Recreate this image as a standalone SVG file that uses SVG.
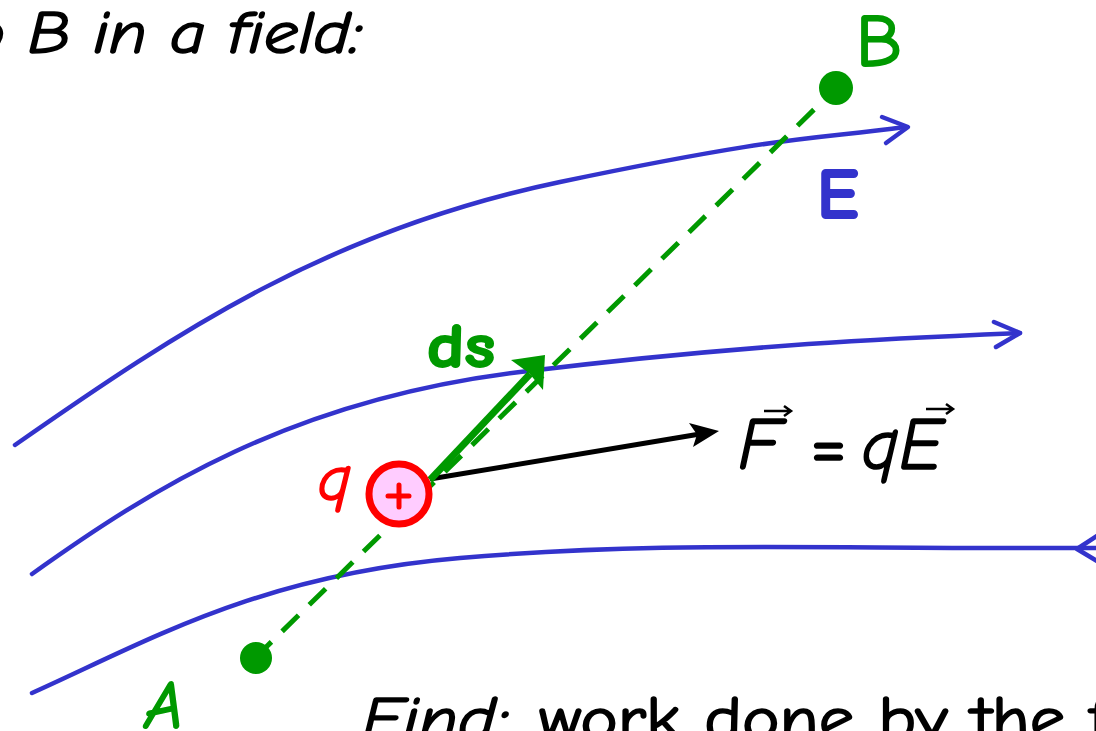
<svg xmlns="http://www.w3.org/2000/svg" width="1096" height="731" viewBox="0 0 1096 731">
<style>
.fl{fill:none;stroke:#3333cc;stroke-width:4.5;stroke-linecap:round;stroke-linejoin:round}
.t{font-family:"Comic Sans MS","Comic Neue","DejaVu Sans",sans-serif;stroke-linejoin:round}
.k{fill:#000;stroke:#000;stroke-width:1.6}
.g{fill:#009900}
.gs{stroke:#009900;stroke-width:2}
</style>
<rect width="1096" height="731" fill="#fff"/>
<text class="t k" x="-52" y="53" font-size="60" font-style="italic" textLength="414" lengthAdjust="spacingAndGlyphs">to B in a field:</text>
<g id="connectors">
<path class="fl" d="M15,445 C180,330 330,230 560,182 S810,140 905,127"/>
<path class="fl" d="M882,117 L908,127 L886,143"/>
<path class="fl" d="M32,574 C150,490 290,400 520,372 S900,338 1020,333"/>
<path class="fl" d="M994,322 L1020,333 L996,347"/>
<path class="fl" d="M32,693 C150,640 260,575 460,558 S800,549 1096,548"/>
<path class="fl" d="M1097,536 L1077,549 L1097,561"/>
<line x1="255" y1="658" x2="836" y2="88" stroke="#009900" stroke-width="5" stroke-dasharray="23,15"/>
<line x1="430" y1="479" x2="700" y2="434" stroke="#000" stroke-width="5"/>
<path d="M719,431 L689,423 L697,434.5 L693,447 Z" fill="#000"/>
<line x1="430" y1="480" x2="530" y2="374" stroke="#009900" stroke-width="7"/>
<path d="M545,355 L511,360 L529,373 L543,390 Z" fill="#009900"/>
</g>
<g id="A">
<circle cx="256" cy="658" r="16" class="g"/>
<text class="t g gs" x="145" y="728" font-size="66" font-style="italic">A</text>
</g>
<g id="B">
<circle cx="836" cy="88" r="17" class="g"/>
<text class="t g gs" x="856" y="66" font-size="74">B</text>
</g>
<g id="E">
<text class="t" x="817" y="218" font-size="70" font-weight="bold" fill="#3333cc" stroke="#3333cc" stroke-width="2">E</text>
</g>
<g id="ds">
<text class="t g gs" x="427" y="367" font-size="62" font-weight="bold" textLength="68" lengthAdjust="spacingAndGlyphs">ds</text>
</g>
<g id="q">
<circle cx="399" cy="494" r="30" fill="#ffccff" stroke="#ff0000" stroke-width="7"/>
<path d="M388,496 H409 M399,485 V507" stroke="#ff0000" stroke-width="5" stroke-linecap="round"/>
<text class="t" x="318" y="500" font-size="64" font-style="italic" fill="#ff0000" stroke="#ff0000" stroke-width="1.6">q</text>
</g>
<g id="F">
<text class="t k" x="738" y="469" font-size="74" font-style="italic">F</text>
<text class="t k" x="810" y="470" font-size="74" textLength="37" lengthAdjust="spacingAndGlyphs">=</text>
<text class="t k" x="862" y="469" font-size="74" font-style="italic" textLength="80" lengthAdjust="spacingAndGlyphs">qE</text>
<path d="M764,411 H790 M784,406 L791,411 L784,416" fill="none" stroke="#000" stroke-width="2.5"/>
<path d="M926,409 H952 M946,404 L953,409 L946,414" fill="none" stroke="#000" stroke-width="2.5"/>
</g>
<g id="find">
<text class="t k" x="362" y="740" font-size="62" font-style="italic" textLength="146" lengthAdjust="spacingAndGlyphs">Find:</text>
<text class="t k" x="539" y="740" font-size="62" textLength="570" lengthAdjust="spacingAndGlyphs">work done by the f</text>
</g>
</svg>
